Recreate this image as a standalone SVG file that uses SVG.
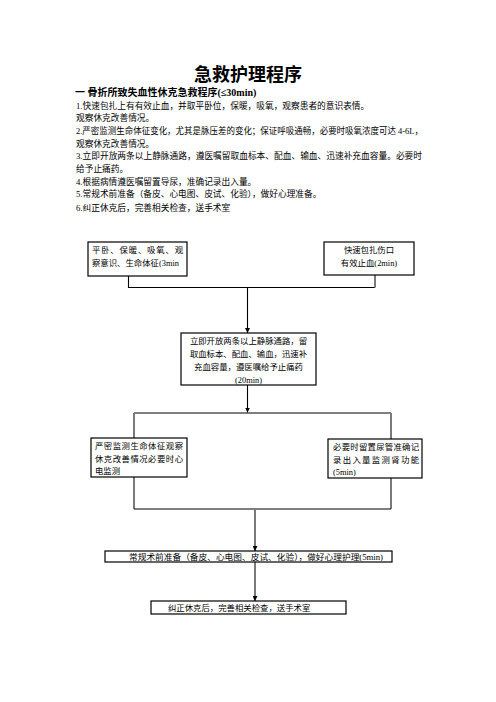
<svg xmlns="http://www.w3.org/2000/svg" width="496" height="702" viewBox="0 0 496 702">
<defs>
<marker id="ah" markerWidth="5" markerHeight="5" refX="5" refY="2.5" orient="auto" markerUnits="userSpaceOnUse">
<path d="M0,0 L5,2.5 L0,5 Z" fill="#000"/>
</marker>
</defs>
<style>
text{font-family:"Liberation Serif","Noto Sans CJK SC",serif;fill:#000}
.t{font-size:8.7px}
.b{font-size:8.4px}
.box{fill:#fff;stroke:#000;stroke-width:1.2}
.k{stroke:#000;stroke-width:1.1;fill:none}
.g{stroke:#7a7a7a;stroke-width:2;fill:none}
.c{text-anchor:middle}
</style>
<rect width="496" height="702" fill="#fff"/>
<g id="header">
<text x="248" y="81" class="c" font-size="18" font-weight="bold">急救护理程序</text>
<text x="75" y="96" font-size="10" font-weight="bold">一  骨折所致失血性休克急救程序(≤30min)</text>
<text x="76" y="109" class="t">1.快速包扎上有有效止血，并取平卧位，保暖，吸氧，观察患者的意识表情。</text>
<text x="76" y="121" class="t">观察休克改善情况。</text>
<text x="76" y="134" class="t" textLength="347" lengthAdjust="spacingAndGlyphs">2.严密监测生命体征变化，尤其是脉压差的变化；保证呼吸通畅，必要时吸氧浓度可达 4-6L，</text>
<text x="76" y="147" class="t">观察休克改善情况。</text>
<text x="76" y="159" class="t" textLength="346" lengthAdjust="spacingAndGlyphs">3.立即开放两条以上静脉通路，遵医嘱留取血标本、配血、输血、迅速补充血容量。必要时</text>
<text x="76" y="172" class="t">给予止痛药。</text>
<text x="76" y="185" class="t">4.根据病情遵医嘱留置导尿，准确记录出入量。</text>
<text x="76" y="197" class="t">5.常规术前准备（备皮、心电图、皮试、化验），做好心理准备。</text>
<text x="76" y="211" class="t">6.纠正休克后，完善相关检查，送手术室</text>
</g>
<g id="connectors">
<path class="k" d="M128.5,276 V287.5 H375"/>
<path class="g" d="M375,275 V287.5"/>
<path class="k" d="M247.5,287.5 V333" marker-end="url(#ah)"/>
<path class="k" d="M247.5,385 V412.5" marker-end="url(#ah)"/>
<path class="k" d="M134,413 H391"/>
<path class="g" d="M134,413 V438 M391,413 V439"/>
<path class="g" d="M134,477 V509 M391,478 V509"/>
<path class="k" d="M134,509 H391"/>
<path class="g" d="M255,509 V551" marker-end="url(#ah)"/>
<path class="g" d="M255,562 V601" marker-end="url(#ah)"/>
</g>
<g id="nodeA">
<rect class="box" x="88" y="242" width="99" height="34"/>
<text x="92" y="253" class="b" textLength="91" lengthAdjust="spacing">平卧、保暖、吸氧、观</text>
<text x="92" y="266" class="b">察意识、生命体征(3min</text>
</g>
<g id="nodeB">
<rect class="box" x="324" y="242" width="90" height="33"/>
<text x="369" y="253" class="b c">快速包扎伤口</text>
<text x="369" y="266" class="b c">有效止血(2min)</text>
</g>
<g id="nodeC">
<rect class="box" x="181" y="333" width="135" height="52"/>
<text x="248.5" y="344" class="b c">立即开放两条以上静脉通路，留</text>
<text x="248.5" y="357" class="b c">取血标本、配血、输血，迅速补</text>
<text x="248.5" y="370" class="b c">充血容量，遵医嘱给予止痛药</text>
<text x="248.5" y="382.5" class="b c">(20min)</text>
</g>
<g id="nodeD">
<rect class="box" x="91" y="438" width="96" height="39"/>
<text x="95" y="449" class="b" textLength="88" lengthAdjust="spacing">严密监测生命体征观察</text>
<text x="95" y="461.5" class="b" textLength="88" lengthAdjust="spacing">休克改善情况必要时心</text>
<text x="95" y="473.5" class="b">电监测</text>
</g>
<g id="nodeE">
<rect class="box" x="328" y="439" width="94" height="39"/>
<text x="333" y="450" class="b" textLength="86" lengthAdjust="spacing">必要时留置尿管准确记</text>
<text x="333" y="462.5" class="b" textLength="86" lengthAdjust="spacing">录出入量监测肾功能</text>
<text x="333" y="474.5" class="b">(5min)</text>
</g>
<g id="nodeF">
<rect class="box" x="105" y="551" width="287" height="11"/>
<text x="129" y="559.5" class="b" textLength="254" lengthAdjust="spacingAndGlyphs">常规术前准备（备皮、心电图、皮试、化验），做好心理护理(5min)</text>
</g>
<g id="nodeG">
<rect class="box" x="151" y="601" width="195" height="13"/>
<text x="168" y="611" class="b">纠正休克后，完善相关检查，送手术室</text>
</g>
</svg>
